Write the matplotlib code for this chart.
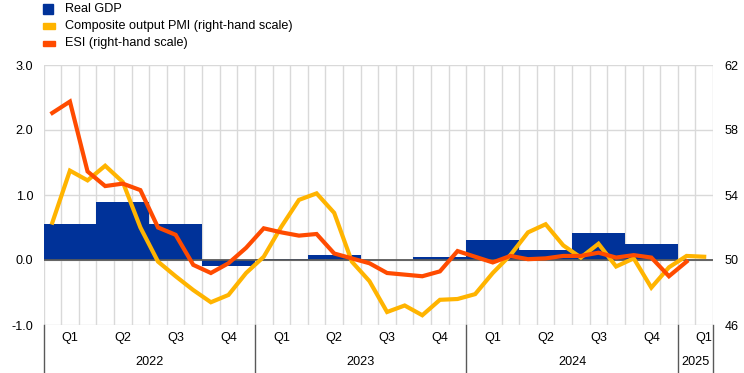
import matplotlib
matplotlib.use("Agg")
import matplotlib.pyplot as plt
from matplotlib.patches import Rectangle
from matplotlib.lines import Line2D
from matplotlib.transforms import blended_transform_factory

plt.rcParams['font.family'] = ['Liberation Sans', 'DejaVu Sans']

# ---- data ----
quarters = ["Q1", "Q2", "Q3", "Q4"] * 3 + ["Q1"]
years = ["2022", "2023", "2024", "2025"]
year_months = [12, 12, 12, 2]  # months shown per year

gdp = [0.55, 0.89, 0.55, -0.09, 0.02, 0.07, 0.0, 0.05, 0.31, 0.16, 0.42, 0.25]

pmi = [52.3, 55.5, 54.9, 55.8, 54.8, 52.0, 49.9, 49.0,
       48.15, 47.4, 47.85, 49.2, 50.2, 52.05, 53.7, 54.1,
       52.9, 49.9, 48.7, 46.8, 47.2, 46.6, 47.55, 47.6,
       47.9, 49.2, 50.3, 51.7, 52.2, 50.9, 50.15, 51.0,
       49.6, 50.1, 48.3, 49.55, 50.25, 50.2]

esi = [59.05, 59.75, 55.45, 54.55, 54.7, 54.3, 52.0, 51.55,
       49.7, 49.2, 49.8, 50.75, 51.95, 51.7, 51.5, 51.6,
       50.4, 50.1, 49.8, 49.2, 49.1, 49.0, 49.3, 50.55,
       50.2, 49.85, 50.25, 50.05, 50.1, 50.25, 50.25, 50.45,
       50.15, 50.3, 50.15, 49.0, 49.9]

labels = ["Real GDP", "Composite output PMI (right-hand scale)", "ESI (right-hand scale)"]

BLUE = "#003299"
YELLOW = "#FFB400"
ORANGE = "#FF4B00"
GRID = "#d9d9d9"
DARK = "#595959"
FS = 9.1

W, H = 744, 373
fig = plt.figure(figsize=(W / 100, H / 100), dpi=100)
left, right, top, bottom = 43.5, 713, 65, 325
ax = fig.add_axes([left / W, 1 - bottom / H, (right - left) / W, (bottom - top) / H])
n_months = sum(year_months)
ax.set_xlim(0, n_months)
ax.set_ylim(-1, 3)
ax.set_yticks([-1, 0, 1, 2, 3])
ax.set_yticklabels(["-1.0", "0.0", "1.0", "2.0", "3.0"])
ax.set_xticks(range(0, n_months + 1))
ax.set_xticklabels([])
ax.tick_params(axis='both', length=0, labelsize=FS, colors="#000000")
ax.tick_params(axis='y', pad=7.5)
ax.grid(True, color=GRID, linewidth=1)
ax.set_axisbelow(True)
for s in ax.spines.values():
    s.set_visible(False)

qx = [3 * i for i in range(len(gdp))]
ax.bar(qx, gdp, width=3, align='edge', color=BLUE, zorder=2)
ax.axhline(0, color=DARK, linewidth=1.3, zorder=3)

ax2 = ax.twinx()
ax2.set_ylim(46, 62)
ax2.set_yticks([46, 50, 54, 58, 62])
ax2.tick_params(axis='y', length=0, labelsize=FS, pad=8.5)
for s in ax2.spines.values():
    s.set_visible(False)
ax2.plot([i + 0.5 for i in range(len(pmi))], pmi, color=YELLOW, lw=3,
         solid_joinstyle='miter', zorder=4)
ax2.plot([i + 0.5 for i in range(len(esi))], esi, color=ORANGE, lw=3,
         solid_joinstyle='miter', zorder=5)

# x-axis category labels
tr = blended_transform_factory(ax.transData, fig.transFigure)
for i, q in enumerate(quarters):
    ax.text(3 * i + 1.5, 1 - 338 / H, q, transform=tr, ha='center', va='center',
            fontsize=FS, clip_on=False)
start = 0
bounds = [0]
for y, m in zip(years, year_months):
    ax.text(start + m / 2, 1 - 362 / H, y, transform=tr, ha='center', va='center',
            fontsize=FS, clip_on=False)
    start += m
    bounds.append(start)
for b in bounds:
    fig.add_artist(Line2D([b, b], [1 - bottom / H, 0], transform=tr, color=DARK,
                          lw=1, clip_on=False))

# legend
items = [("patch", BLUE), ("line", YELLOW), ("line", ORANGE)]
for k, ((kind, c), lab) in enumerate(zip(items, labels)):
    yc = 9 + 17 * k
    if kind == "patch":
        fig.add_artist(Rectangle((43 / W, 1 - (yc + 5) / H), 10 / W, 10 / H,
                                 transform=fig.transFigure, color=c))
    else:
        fig.add_artist(Rectangle((43 / W, 1 - (yc + 2.5) / H), 12 / W, 5 / H,
                                 transform=fig.transFigure, color=c))
    fig.text(65 / W, 1 - yc / H, lab, ha='left', va='center', fontsize=FS)

fig.savefig("out.png", dpi=100)
